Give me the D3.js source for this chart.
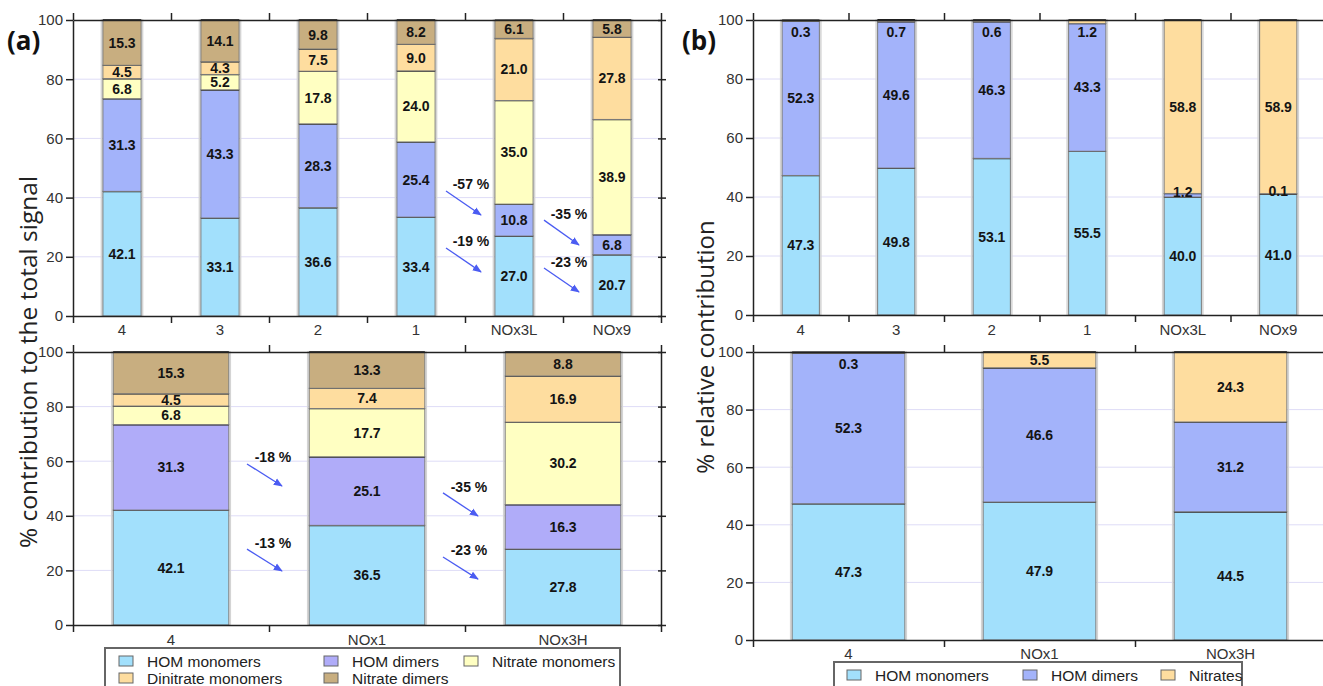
<!DOCTYPE html>
<html>
<head>
<meta charset="utf-8">
<script src="https://cdn.jsdelivr.net/npm/d3@7"></script>
<style>
  body { margin: 0; background: #fff; }
  svg { display: block; }
</style>
</head>
<body>
<svg id="chart" width="1323" height="686"></svg>
<script>
// categories
const catsTop = ["4", "3", "2", "1", "NOx3L", "NOx9"];
const catsBottom = ["4", "NOx1", "NOx3H"];

// (a) top - % contribution to total signal
const homMonoA = [42.1, 33.1, 36.6, 33.4, 27.0, 20.7];
const homDimA = [31.3, 43.3, 28.3, 25.4, 10.8, 6.8];
const nitMonoA = [6.8, 5.2, 17.8, 24.0, 35.0, 38.9];
const dinitMonoA = [4.5, 4.3, 7.5, 9.0, 21.0, 27.8];
const nitDimA = [15.3, 14.1, 9.8, 8.2, 6.1, 5.8];

// (a) bottom
const homMonoA2 = [42.1, 36.5, 27.8];
const homDimA2 = [31.3, 25.1, 16.3];
const nitMonoA2 = [6.8, 17.7, 30.2];
const dinitMonoA2 = [4.5, 7.4, 16.9];
const nitDimA2 = [15.3, 13.3, 8.8];

// (b) top - % relative contribution
const homMonoB = [47.3, 49.8, 53.1, 55.5, 40.0, 41.0];
const homDimB = [52.3, 49.6, 46.3, 43.3, 1.2, 0.1];
const nitratesB = [0.3, 0.7, 0.6, 1.2, 58.8, 58.9];

// (b) bottom
const homMonoB2 = [47.3, 47.9, 44.5];
const homDimB2 = [52.3, 46.6, 31.2];
const nitratesB2 = [0.3, 5.5, 24.3];

// change arrows: boundary index (between bars), label, start/end value
const arrowsATop = [
  {at: 4, label: "-57 %", from: 42.2, to: 34.1, text: 44.6},
  {at: 4, label: "-19 %", from: 23.0, to: 14.9, text: 25.2},
  {at: 5, label: "-35 %", from: 32.4, to: 24.0, text: 34.3},
  {at: 5, label: "-23 %", from: 16.2, to: 8.1, text: 18.3}
];
const arrowsABottom = [
  {at: 1, label: "-18 %", from: 59.0, to: 50.9, text: 61.7},
  {at: 1, label: "-13 %", from: 27.8, to: 19.8, text: 30.2},
  {at: 2, label: "-35 %", from: 48.4, to: 39.9, text: 50.6},
  {at: 2, label: "-23 %", from: 24.9, to: 16.8, text: 27.6}
];

const C = {
  homMono: "#a2e0fc",
  homDim: "#a3b3fa",
  homDim2: "#b0acf9",
  nitMono: "#ffffc2",
  dinitMono: "#fedd9f",
  nitDim: "#c8ae80",
  nitrates: "#fedd9f"
};
const FONT = "'Liberation Sans', Arial, sans-serif";

const svg = d3.select("#chart");

svg.append("defs").append("marker")
  .attr("id", "arr")
  .attr("viewBox", "0 0 10 10")
  .attr("refX", 9).attr("refY", 5)
  .attr("markerWidth", 7).attr("markerHeight", 7)
  .attr("orient", "auto")
  .append("path")
  .attr("d", "M0,1 L10,5 L0,9 z")
  .attr("fill", "#4b5cf2");

function drawPanel(cfg) {
  const n = cfg.cats.length;
  const g = svg.append("g");
  const y = d3.scaleLinear().domain([0, 100]).range([cfg.yBot, cfg.yTop]);
  const xi = d3.scaleLinear().domain([0, n]).range([cfg.x0, cfg.x1]);
  const x = d3.scaleBand().domain(cfg.cats).range([cfg.x0, cfg.x1])
    .paddingInner(cfg.pad).paddingOuter(cfg.pad / 2);

  // grid
  g.append("g").selectAll("line").data([20, 40, 60, 80]).join("line")
    .attr("x1", cfg.x0).attr("x2", cfg.x1)
    .attr("y1", d => y(d)).attr("y2", d => y(d))
    .attr("stroke", "#dedcf7").attr("stroke-width", 1);

  const rows = cfg.cats.map((c, i) => {
    const r = {cat: c};
    cfg.series.forEach(s => r[s.key] = s.values[i]);
    return r;
  });
  const keys = cfg.series.map(s => s.key);
  const stacked = d3.stack().keys(keys)(rows);
  const color = {};
  cfg.series.forEach(s => color[s.key] = s.color);

  // faint shadow round each bar
  g.append("g").selectAll("rect").data(cfg.cats).join("rect")
    .attr("x", d => x(d) - 1.5).attr("width", x.bandwidth() + 3)
    .attr("y", cfg.yTop).attr("height", cfg.yBot - cfg.yTop)
    .attr("fill", "none").attr("stroke", "#d4d4d4").attr("stroke-width", 1.5);

  const layers = g.append("g").selectAll("g").data(stacked).join("g")
    .attr("fill", d => color[d.key]);
  layers.selectAll("rect").data(d => d).join("rect")
    .attr("x", d => x(d.data.cat))
    .attr("width", x.bandwidth())
    .attr("y", d => y(d[1]))
    .attr("height", d => y(d[0]) - y(d[1]))
    .attr("stroke", "#7a7a7a").attr("stroke-width", 1);
  // segment separators
  layers.selectAll("line").data(d => d).join("line")
    .attr("x1", d => x(d.data.cat)).attr("x2", d => x(d.data.cat) + x.bandwidth())
    .attr("y1", d => y(d[1])).attr("y2", d => y(d[1]))
    .attr("stroke", "#1e1e1e").attr("stroke-width", 1.6);

  // value labels
  stacked.forEach(layer => {
    g.append("g").selectAll("text").data(layer).join("text")
      .attr("x", d => x(d.data.cat) + x.bandwidth() / 2)
      .attr("y", d => {
        const v = d[1] - d[0];
        let c = (d[0] + d[1]) / 2;
        if (v < 2) c = Math.min(c + 1, 96);
        return y(c);
      })
      .attr("text-anchor", "middle")
      .attr("dominant-baseline", "central")
      .attr("font-family", FONT).attr("font-weight", "bold")
      .attr("font-size", 14).attr("fill", "#141414")
      .text(d => (d[1] - d[0]).toFixed(1));
  });

  // axes
  const yt = [0, 20, 40, 60, 80, 100];
  const left = g.append("g").attr("transform", `translate(${cfg.x0},0)`)
    .call(d3.axisLeft(y).tickValues(yt).tickSize(7).tickPadding(3).tickSizeOuter(0));
  const right = g.append("g").attr("transform", `translate(${cfg.x1 - 3},0)`)
    .call(d3.axisRight(y).tickValues(yt).tickSize(8).tickFormat("").tickSizeOuter(0));
  const bottom = g.append("g").attr("transform", `translate(0,${cfg.yBot})`)
    .call(d3.axisBottom(xi).tickValues(d3.range(n + 1)).tickSize(7).tickFormat("").tickSizeOuter(0));
  const top = g.append("g").attr("transform", `translate(0,${cfg.yTop})`)
    .call(d3.axisTop(xi).tickValues(d3.range(n + 1)).tickSize(7).tickFormat("").tickSizeOuter(0));
  [left, right, bottom, top].forEach(a => {
    a.selectAll("path").attr("stroke", "#222").attr("stroke-width", 1.5);
    a.selectAll("line").attr("stroke", "#222").attr("stroke-width", 1.5);
    a.selectAll("text").attr("font-family", FONT).attr("font-size", 15).attr("fill", "#333");
  });
  right.select("path").attr("transform", "translate(3,0)");

  // category labels
  g.append("g").selectAll("text").data(cfg.cats).join("text")
    .attr("x", d => x(d) + x.bandwidth() / 2)
    .attr("y", cfg.yBot + cfg.labelDy)
    .attr("text-anchor", "middle")
    .attr("font-family", FONT).attr("font-size", 15).attr("fill", "#333")
    .text(d => d);

  // arrows
  if (cfg.arrows) {
    const ag = g.append("g");
    ag.selectAll("line").data(cfg.arrows).join("line")
      .attr("x1", d => xi(d.at) + cfg.arrowDx[0])
      .attr("x2", d => xi(d.at) + cfg.arrowDx[1])
      .attr("y1", d => y(d.from)).attr("y2", d => y(d.to))
      .attr("stroke", "#4b5cf2").attr("stroke-width", 1.3)
      .attr("marker-end", "url(#arr)");
    ag.selectAll("text").data(cfg.arrows).join("text")
      .attr("x", d => xi(d.at) + cfg.textDx)
      .attr("y", d => y(d.text))
      .attr("text-anchor", "middle")
      .attr("dominant-baseline", "central")
      .attr("font-family", FONT).attr("font-weight", "bold")
      .attr("font-size", 14).attr("fill", "#141414")
      .text(d => d.label);
  }
}

drawPanel({
  cats: catsTop, x0: 73, x1: 661, yTop: 20, yBot: 316, pad: 0.61, labelDy: 19,
  series: [
    {key: "HOM monomers", values: homMonoA, color: C.homMono},
    {key: "HOM dimers", values: homDimA, color: C.homDim},
    {key: "Nitrate monomers", values: nitMonoA, color: C.nitMono},
    {key: "Dinitrate monomers", values: dinitMonoA, color: C.dinitMono},
    {key: "Nitrate dimers", values: nitDimA, color: C.nitDim}
  ],
  arrows: arrowsATop, arrowDx: [-19, 16], textDx: 6
});

drawPanel({
  cats: catsBottom, x0: 73, x1: 661, yTop: 352, yBot: 625, pad: 0.41, labelDy: 20,
  series: [
    {key: "HOM monomers", values: homMonoA2, color: C.homMono},
    {key: "HOM dimers", values: homDimA2, color: C.homDim2},
    {key: "Nitrate monomers", values: nitMonoA2, color: C.nitMono},
    {key: "Dinitrate monomers", values: dinitMonoA2, color: C.dinitMono},
    {key: "Nitrate dimers", values: nitDimA2, color: C.nitDim}
  ],
  arrows: arrowsABottom, arrowDx: [-22, 13], textDx: 4
});

drawPanel({
  cats: catsTop, x0: 753, x1: 1326, yTop: 20, yBot: 315, pad: 0.61, labelDy: 20,
  series: [
    {key: "HOM monomers", values: homMonoB, color: C.homMono},
    {key: "HOM dimers", values: homDimB, color: C.homDim},
    {key: "Nitrates", values: nitratesB, color: C.nitrates}
  ]
});

drawPanel({
  cats: catsBottom, x0: 753, x1: 1326, yTop: 352, yBot: 640, pad: 0.41, labelDy: 19,
  series: [
    {key: "HOM monomers", values: homMonoB2, color: C.homMono},
    {key: "HOM dimers", values: homDimB2, color: C.homDim},
    {key: "Nitrates", values: nitratesB2, color: C.nitrates}
  ]
});

// y titles and panel letters
svg.append("text")
  .attr("transform", "translate(37,362) rotate(-90)")
  .attr("text-anchor", "middle")
  .attr("font-family", "'Open Sans', sans-serif").attr("font-size", 24.5).attr("fill", "#222")
  .text("% contribution to the total signal");
svg.append("text")
  .attr("transform", "translate(714,347) rotate(-90)")
  .attr("text-anchor", "middle")
  .attr("font-family", "'Open Sans', sans-serif").attr("font-size", 24).attr("fill", "#222")
  .text("% relative contribution");
svg.append("text").attr("x", 7).attr("y", 50)
  .attr("font-family", "'Open Sans', sans-serif").attr("font-weight", "bold")
  .attr("font-size", 26).attr("fill", "#111").text("(a)");
svg.append("text").attr("x", 682).attr("y", 50)
  .attr("font-family", "'Open Sans', sans-serif").attr("font-weight", "bold")
  .attr("font-size", 26).attr("fill", "#111").text("(b)");

// legends
const legendA = [
  {name: "HOM monomers", color: C.homMono, col: 0, row: 0},
  {name: "HOM dimers", color: C.homDim2, col: 1, row: 0},
  {name: "Nitrate monomers", color: C.nitMono, col: 2, row: 0},
  {name: "Dinitrate monomers", color: C.dinitMono, col: 0, row: 1},
  {name: "Nitrate dimers", color: C.nitDim, col: 1, row: 1}
];
const legendB = [
  {name: "HOM monomers", color: C.homMono, col: 0, row: 0},
  {name: "HOM dimers", color: C.homDim, col: 1, row: 0},
  {name: "Nitrates", color: C.nitrates, col: 2, row: 0}
];

function drawLegend(items, box, colX, rowY) {
  const g = svg.append("g");
  g.append("rect").attr("x", box[0]).attr("y", box[1]).attr("width", box[2]).attr("height", box[3])
    .attr("fill", "#fff").attr("stroke", "#666").attr("stroke-width", 2);
  const it = g.selectAll("g").data(items).join("g")
    .attr("transform", d => `translate(${colX[d.col]},${rowY[d.row]})`);
  it.append("rect").attr("x", 0).attr("y", -5).attr("width", 14).attr("height", 10)
    .attr("fill", d => d.color).attr("stroke", "#666").attr("stroke-width", 1);
  it.append("text").attr("x", 28).attr("y", 0).attr("dominant-baseline", "central")
    .attr("font-family", FONT).attr("font-size", 15.5).attr("fill", "#222")
    .text(d => d.name);
}
drawLegend(legendA, [105, 648, 515, 46], [119, 324, 464], [661, 678]);
drawLegend(legendB, [834, 662, 408, 30], [847, 1023, 1161], [675]);
</script>
</body>
</html>
